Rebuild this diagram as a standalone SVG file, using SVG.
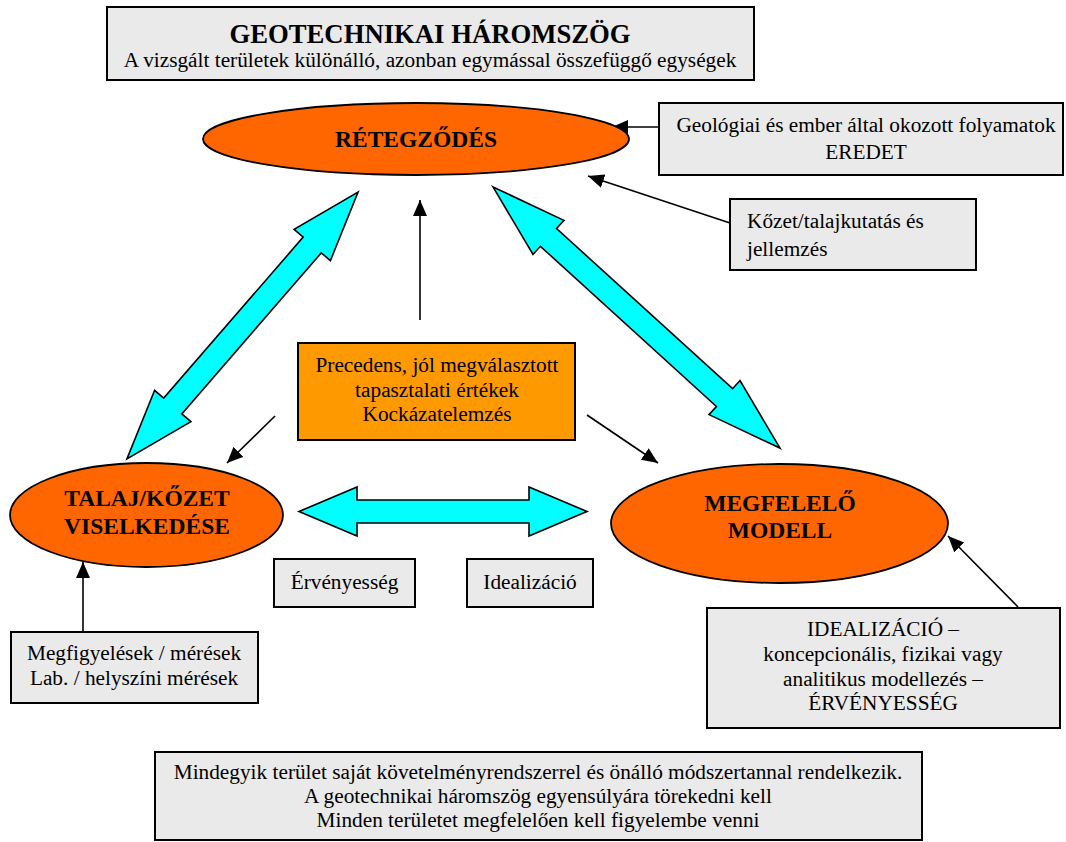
<svg xmlns="http://www.w3.org/2000/svg" width="1066" height="842" viewBox="0 0 1066 842">
<style>
text{font-family:"Liberation Serif","Times New Roman",serif;fill:#000}
.box{fill:#EAEAEA;stroke:#000;stroke-width:2}
.ell{fill:#FF6600;stroke:#000;stroke-width:1.8}
.big{fill:#00FFFF;stroke:#000;stroke-width:1.6;stroke-linejoin:miter}
.t{font-size:21.3px;text-anchor:middle}
.b{font-size:23.5px;font-weight:bold;text-anchor:middle}
.con{stroke:#000;stroke-width:1.6;fill:none;marker-end:url(#ah)}
</style>
<defs>
<marker id="ah" markerUnits="userSpaceOnUse" markerWidth="17" markerHeight="15" refX="16" refY="7" orient="auto">
<path d="M0,0 L16,7 L0,14 z" fill="#000"/>
</marker>
</defs>
<rect width="1066" height="842" fill="#fff"/>

<g id="title">
<rect class="box" x="107" y="7" width="647" height="73"/>
<text x="430" y="43" style="font-size:26.7px;font-weight:bold;text-anchor:middle">GEOTECHNIKAI HÁROMSZÖG</text>
<text class="t" x="430" y="67">A vizsgált területek különálló, azonban egymással összefüggő egységek</text>
</g>

<g id="arrows-big">
<path class="big" transform="translate(242.5,325.5) rotate(-49.1)" d="M-176.5 0 L-106.5 -24 L-106.5 -12 L106.5 -12 L106.5 -24 L176.5 0 L106.5 24 L106.5 12 L-106.5 12 L-106.5 24 Z"/>
<path class="big" transform="translate(636.5,317.5) rotate(42.3)" d="M-194 0 L-119 -23 L-119 -12 L119 -12 L119 -23 L194 0 L119 23 L119 12 L-119 12 L-119 23 Z"/>
<path class="big" transform="translate(443,511.5)" d="M-144 0 L-86 -24.5 L-86 -11.5 L86 -11.5 L86 -24.5 L144 0 L86 24.5 L86 11.5 L-86 11.5 L-86 24.5 Z"/>
</g>

<g id="connectors">
<line class="con" x1="658" y1="127" x2="612" y2="127"/>
<line class="con" x1="730" y1="223" x2="588" y2="176"/>
<line class="con" x1="420" y1="320" x2="420" y2="200"/>
<line class="con" x1="275" y1="416" x2="227" y2="463"/>
<line class="con" x1="587" y1="415" x2="658" y2="463"/>
<line class="con" x1="83" y1="632" x2="83" y2="562"/>
<line class="con" x1="1018" y1="607" x2="948" y2="536"/>
</g>

<g id="retegzodes">
<ellipse class="ell" cx="416" cy="139" rx="213" ry="36"/>
<text class="b" x="416" y="147">RÉTEGZŐDÉS</text>
</g>

<g id="geologiai">
<rect class="box" x="659" y="103" width="404" height="72"/>
<text class="t" x="866" y="132">Geológiai és ember által okozott folyamatok</text>
<text class="t" x="866" y="159">EREDET</text>
</g>

<g id="kozet">
<rect class="box" x="730" y="199" width="246" height="71"/>
<text x="747" y="228" style="font-size:21.3px">Kőzet/talajkutatás és</text>
<text x="747" y="256" style="font-size:21.3px">jellemzés</text>
</g>

<g id="precedens">
<rect x="298" y="343" width="277" height="97" fill="#FF9900" stroke="#000" stroke-width="2"/>
<text class="t" x="437" y="372">Precedens, jól megválasztott</text>
<text class="t" x="437" y="397">tapasztalati értékek</text>
<text class="t" x="437" y="421">Kockázatelemzés</text>
</g>

<g id="talaj">
<ellipse class="ell" cx="146.5" cy="515" rx="136.5" ry="52"/>
<text class="b" x="147" y="506">TALAJ/KŐZET</text>
<text class="b" x="147" y="534">VISELKEDÉSE</text>
</g>

<g id="modell">
<ellipse class="ell" cx="779.5" cy="523.5" rx="168.5" ry="59.5"/>
<text class="b" x="780" y="511">MEGFELELŐ</text>
<text class="b" x="780" y="538">MODELL</text>
</g>

<g id="ervenyesseg">
<rect class="box" x="274" y="559" width="141" height="48"/>
<text class="t" x="344.5" y="589">Érvényesség</text>
</g>

<g id="idealizacio">
<rect class="box" x="467" y="559" width="126" height="48"/>
<text class="t" x="530" y="589">Idealizáció</text>
</g>

<g id="megfigyelesek">
<rect class="box" x="11" y="632" width="247" height="71"/>
<text class="t" x="134" y="660">Megfigyelések / mérések</text>
<text class="t" x="134" y="685">Lab. / helyszíni mérések</text>
</g>

<g id="idealizacio-box">
<rect class="box" x="707" y="608" width="353" height="120"/>
<text class="t" x="883" y="636">IDEALIZÁCIÓ –</text>
<text class="t" x="883" y="661">koncepcionális, fizikai vagy</text>
<text class="t" x="883" y="686">analitikus modellezés –</text>
<text class="t" x="883" y="710">ÉRVÉNYESSÉG</text>
</g>

<g id="summary">
<rect class="box" x="155" y="752" width="767" height="88"/>
<text class="t" x="538" y="779">Mindegyik terület saját követelményrendszerrel és önálló módszertannal rendelkezik.</text>
<text class="t" x="538" y="803">A geotechnikai háromszög egyensúlyára törekedni kell</text>
<text class="t" x="538" y="827">Minden területet megfelelően kell figyelembe venni</text>
</g>
</svg>
